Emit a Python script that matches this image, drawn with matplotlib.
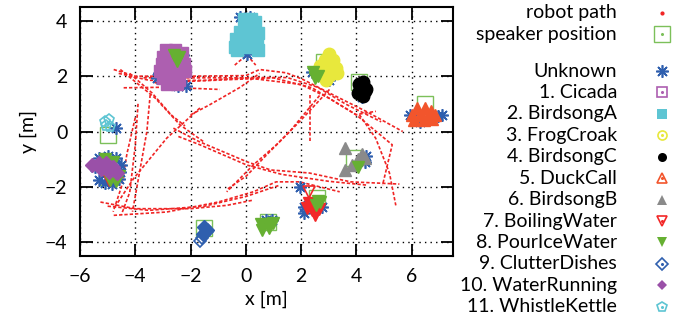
import matplotlib
matplotlib.use('Agg')
import matplotlib.pyplot as plt

plt.rcParams['font.family'] = ['Lato', 'DejaVu Sans']

# robot path, drawn as separate strokes (x, y) in metres
path1 = [(-4.78, 2.24), (-4.0, 2.0), (-2.0, 2.0), (0.0, 2.02), (0.5, 2.24), (1.47, 2.12),
         (2.07, 1.88), (3.15, 1.33), (4.35, 0.73), (5.68, 0.0)]
path2 = [(-4.42, 1.58), (-2.86, 1.6), (-0.94, 1.52)]
path3 = [(-3.7, 1.94), (-1.66, 1.94), (0.03, 1.94), (2.0, 1.7), (3.0, 1.21), (3.99, 0.61), (4.71, 0.73)]
path4 = [(-3.3, 1.76), (-0.45, 1.88), (1.0, 1.94), (2.4, 1.58), (4.0, 0.6), (5.3, -0.48), (4.95, -1.94)]
path5 = [(4.11, 0.61), (4.7, -0.24), (5.2, -1.5), (5.43, -2.67)]
path6 = [(3.03, 1.52), (1.95, 0.36), (1.11, -0.48), (0.27, -1.21), (-0.69, -2.18)]
path7 = [(2.67, 1.3), (1.59, 0.0), (0.75, -0.85), (0.03, -1.6), (-0.69, -2.1)]
path8 = [(2.31, 1.33), (2.31, -0.36)]
path9 = [(-5.26, -2.55), (-4.0, -2.79), (-2.0, -2.79), (-0.69, -2.67), (0.27, -2.48)]
path10 = [(-4.78, -3.03), (-2.86, -2.91), (-1.0, -2.55), (0.27, -2.18), (1.1, -1.82),
          (1.95, -1.82), (3.4, -2.18)]
path11 = [(-2.44, -0.18), (-1.66, -0.48), (0.03, -1.21), (1.3, -1.55), (3.0, -1.8), (4.4, -1.94)]
path12 = [(-2.62, 0.12), (-1.7, -0.36), (0.03, -1.09), (0.9, -1.39), (2.3, -1.5), (3.8, -1.82), (5.56, -1.9)]
path13 = [(-1.66, 0.85), (-2.86, -0.24), (-4.06, -1.7), (-4.78, -2.79)]
path14 = [(-3.46, 1.33), (-3.58, 0.0), (-3.85, -1.5), (-4.1, -2.9)]
path15 = [(-4.0, 0.5), (-4.3, -0.8), (-4.5, -2.0), (-4.8, -2.9)]
path16 = [(-4.54, 2.24), (-3.28, 1.21), (-2.38, 0.24), (-1.54, -0.36)]
path17 = [(-2.0, 0.6), (-1.3, 0.97), (-0.2, 1.6), (0.5, 2.1)]
path18 = [(-0.4, 2.4), (0.04, 2.77), (0.36, 2.4)]
path19 = [(-4.6, 2.1), (-3.5, 1.85), (-1.5, 1.85), (0.2, 1.95), (1.5, 1.95), (2.6, 1.6),
          (3.6, 1.0), (4.9, 0.35)]
path20 = [(-5.0, -2.7), (-3.5, -2.85), (-1.5, -2.7), (0.0, -2.35), (1.2, -1.95)]
path21 = [(-3.9, 1.0), (-4.0, -0.5), (-4.2, -2.2), (-4.5, -3.0)]
path22 = [(-4.2, 2.1), (-3.4, 1.4), (-2.7, 0.6), (-2.2, 0.2)]

speaker_x = [-2.6, 0.0, 2.83, 4.1, 6.48, 3.93, 2.56, 0.8, -1.5, -5.0, -5.0]
speaker_y = [2.3, 3.5, 2.5, 1.8, 0.98, -0.96, -2.4, -3.27, -3.5, -1.64, -0.12]

unknown = [(-0.2, 4.15), (0.15, 4.15), (0.05, 2.8), (2.4, 2.15), (3.0, 1.87), (4.2, 1.25),
           (5.95, 0.6), (6.95, 0.55), (7.1, 0.6), (6.3, 0.35), (4.35, -0.9), (4.3, -1.1),
           (1.95, -2.0), (2.1, -2.72), (2.75, -2.72), (2.1, -2.95), (0.75, -3.2), (0.95, -3.2),
           (-4.7, 0.12), (-5.3, -0.95), (-5.0, -0.9), (-4.7, -0.95), (-4.5, -1.2), (-4.55, -1.45),
           (-4.6, -1.7), (-5.3, -1.75), (-5.45, -1.3), (-4.85, -1.9), (-5.1, -1.85),
           (-2.27, 2.78), (-3.15, 2.1), (-3.2, 1.95), (-2.45, 1.65), (-2.15, 1.65)]
cicada = [(-2.9, 2.95), (-2.55, 2.95), (-2.3, 2.85), (-3.0, 2.7), (-2.7, 2.7), (-2.4, 2.65),
          (-3.05, 2.45), (-2.75, 2.45), (-2.45, 2.4), (-2.25, 2.45), (-3.1, 2.2), (-2.8, 2.2),
          (-2.5, 2.15), (-2.2, 2.2), (-3.0, 1.95), (-2.7, 1.9), (-2.4, 1.85), (-2.85, 1.72), (-2.5, 1.7)]
birdsong_a = [(-0.05, 4.05), (0.2, 4.05), (0.35, 3.95), (0.0, 3.8), (0.3, 3.75), (-0.2, 3.6),
              (0.1, 3.6), (0.45, 3.55), (-0.35, 3.35), (0.0, 3.35), (0.4, 3.3), (-0.4, 3.05),
              (-0.05, 3.05), (0.35, 3.05), (0.45, 2.95), (-0.3, 2.95), (0.15, 3.2), (-0.15, 3.2)]
frog_croak = [(3.0, 2.8), (2.85, 2.6), (3.15, 2.6), (2.7, 2.35), (3.0, 2.35), (3.25, 2.3),
              (2.75, 2.05), (3.05, 2.05), (3.3, 2.1), (2.9, 1.85)]
birdsong_c = [(4.25, 1.8), (4.15, 1.6), (4.35, 1.55), (4.05, 1.4), (4.25, 1.3), (4.3, 1.45), (4.1, 1.7)]
duck_call = [(6.2, 0.85), (6.5, 0.85), (6.7, 0.75), (6.0, 0.6), (6.3, 0.6), (6.6, 0.55),
             (6.85, 0.6), (6.1, 0.4), (6.45, 0.4), (6.75, 0.45)]
birdsong_b = [(3.6, -0.6), (4.2, -0.8), (4.05, -1.0), (3.85, -1.2), (3.6, -1.4), (4.3, -0.95)]
boiling_water = [(2.3, -2.6), (2.55, -2.7), (2.4, -2.85), (2.5, -3.0), (2.2, -2.75), (2.65, -2.8),
                 (-5.05, -1.5), (-4.95, -1.75)]
boiling_open = [(2.3, -2.2)]
pour_ice = [(2.45, 2.15), (2.6, 2.0), (2.5, 1.95), (4.05, -1.3), (2.6, -2.5), (2.55, -2.65),
            (2.7, -2.55), (0.55, -3.35), (0.8, -3.35), (1.0, -3.3), (0.6, -3.55), (0.85, -3.5),
            (-5.1, -1.0), (-4.8, -1.1), (-4.6, -1.6), (-4.9, -1.75), (-4.7, -1.8),
            (-2.6, 2.75), (-2.4, 2.7), (-2.5, 2.55)]
clutter = [(-1.5, -3.45), (-1.45, -3.6), (-1.55, -3.7), (-1.4, -3.55)]
clutter_open = [(-1.6, -3.85), (-1.65, -3.95)]
water_running = [(-5.55, -1.2), (-5.3, -1.15), (-5.05, -1.15), (-4.8, -1.3), (-5.25, -1.35),
                 (-4.95, -1.45), (-4.65, -1.5), (-5.1, -1.3)]
kettle = [(-5.1, 0.35), (-4.95, 0.4), (-5.05, 0.2), (-4.9, 0.15)]

labels = ['Unknown', '1. Cicada', '2. BirdsongA', '3. FrogCroak', '4. BirdsongC', '5. DuckCall',
          '6. BirdsongB', '7. BoilingWater', '8. PourIceWater', '9. ClutterDishes',
          '10. WaterRunning', '11. WhistleKettle']
colors = ['#2f5fae', '#ad5fb0', '#5ec5d3', '#e8e83c', '#000000', '#f2552c',
          '#8a8a8a', '#f22828', '#66b032', '#2f5fae', '#9a50a8', '#5ec5d3']
markers = [(8, 2, 0), 's', 's', 'o', 'o', '^', '^', 'v', 'v', 'D', 'D', 'p']
legend_open = [False, True, False, True, False, True, False, True, False, True, False, True]
points = [unknown, cicada, birdsong_a, frog_croak, birdsong_c, duck_call, birdsong_b,
          boiling_water, pour_ice, clutter, water_running, kettle]

path_color = '#f02424'
speaker_color = '#7cc05a'

fig = plt.figure(figsize=(6.88, 3.22), dpi=100)
ax = fig.add_axes([80 / 688, 66 / 322, 373 / 688, 249 / 322])

for stroke in [path1, path2, path3, path4, path5, path6, path7, path8, path9, path10,
               path11, path12, path13, path14, path15, path16, path17, path18, path19,
               path20, path21, path22]:
    xs, ys = zip(*stroke)
    ax.plot(xs, ys, color=path_color, lw=1.2, ls=(0, (2.0, 1.2)), zorder=2)

ax.plot(speaker_x, speaker_y, ls='none', marker='s', ms=11, mfc='none', mec=speaker_color,
        mew=1.0, zorder=3)

for i, pts in enumerate(points):
    xs, ys = zip(*pts)
    if i == 0:
        ax.plot(xs, ys, ls='none', marker=markers[i], ms=9, color=colors[i], mew=1.2, zorder=4)
    elif i == 11:
        ax.plot(xs, ys, ls='none', marker=markers[i], ms=8, mfc='none', mec=colors[i], mew=1.2, zorder=5)
    else:
        ms = 7 if markers[i] == 'D' else 9
        ax.plot(xs, ys, ls='none', marker=markers[i], ms=ms, color=colors[i], mew=1.0, zorder=5)

for pts, i in [(boiling_open, 7), (clutter_open, 9)]:
    xs, ys = zip(*pts)
    ax.plot(xs, ys, ls='none', marker=markers[i], ms=8 if i == 7 else 6, mfc='none',
            mec=colors[i], mew=1.2, zorder=5)

ax.set_xlim(-6, 7.5)
ax.set_ylim(-4.5, 4.5)
ax.set_xticks([-6, -4, -2, 0, 2, 4, 6])
ax.set_yticks([-4, -2, 0, 2, 4])
ax.grid(True, color='black', lw=1.0, ls=(0, (1, 3)))
ax.set_axisbelow(True)
ax.tick_params(direction='in', length=9, width=1.3, top=True, right=True, labelsize=14)
ax.tick_params(axis='x', pad=9)
ax.tick_params(axis='y', pad=9)
for s in ax.spines.values():
    s.set_linewidth(1.5)
ax.set_xlabel('x [m]', fontsize=14, labelpad=4)
ax.set_ylabel('y [m]', fontsize=14, labelpad=6)

# legend drawn in pixel coordinates on the right
lax = fig.add_axes([0, 0, 1, 1])
lax.set_xlim(0, 688)
lax.set_ylim(322, 0)
lax.axis('off')
tx, mx = 617, 662
lax.text(tx, 12.7, 'robot path', ha='right', va='center', fontsize=14)
lax.plot([mx], [12.7], ls='none', marker='o', ms=2, color=path_color)
lax.text(tx, 34.3, 'speaker position', ha='right', va='center', fontsize=14)
lax.plot([mx], [34.3], ls='none', marker='s', ms=11, mfc='none', mec=speaker_color, mew=1.0)
lax.plot([mx], [34.3], ls='none', marker='o', ms=1.2, color=speaker_color)
for k, lab in enumerate(labels):
    yy = 71 + 21.43 * k
    lax.text(tx, yy, lab, ha='right', va='center', fontsize=14)
    if k == 0:
        lax.plot([mx], [yy], ls='none', marker=markers[k], ms=9, color=colors[k], mew=1.2)
    elif legend_open[k]:
        lax.plot([mx], [yy], ls='none', marker=markers[k], ms=6.5 if markers[k] != 'p' else 7,
                 mfc='none', mec=colors[k], mew=1.2)
        lax.plot([mx], [yy], ls='none', marker='o', ms=1.2, color=colors[k])
    else:
        lax.plot([mx], [yy], ls='none', marker=markers[k], ms=6.5 if markers[k] != 'D' else 5.5,
                 color=colors[k], mew=0)

fig.savefig('out.png', dpi=100)
